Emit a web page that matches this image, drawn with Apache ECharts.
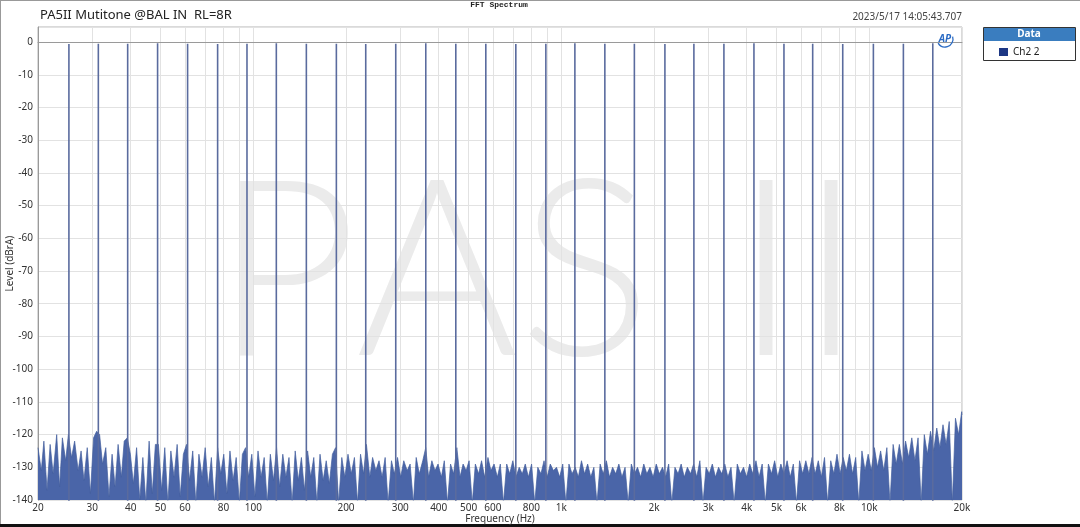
<!DOCTYPE html>
<html><head><meta charset="utf-8">
<script src="https://cdn.jsdelivr.net/npm/echarts@6/dist/echarts.min.js"></script>
<style>html,body{margin:0;padding:0;background:#fff}#c{width:1080px;height:527px}</style>
</head><body><div id="c"></div>
<script>
// Tone frequencies (Hz) and levels (dBrA)
const toneHz = [25.2,31.4,39.1,48.9,61.2,76.6,95.4,118.8,148.7,186.1,231.8,290.1,363.1,454.5,568.8,711.9,891,1107,1385,1727,2170,2695,3373,4222,5284,6550,8200,10311,12904,16076];
const toneDb = [-0.6,-0.5,-0.5,-0.4,-0.5,-0.6,-0.5,-0.4,-0.5,-0.5,-0.6,-0.5,-0.4,-0.5,-0.5,-0.6,-0.5,-0.4,-0.5,-0.5,-0.6,-0.5,-0.5,-0.4,-0.5,-0.5,-0.6,-0.5,-0.5,-0.4];
// Noise floor samples (Hz, dBrA)
const noiseHz = [
20,20.5,20.9,21.4,21.9,22.4,23,23.5,24,24.6,
25.1,25.7,26.3,27,27.6,28.2,28.9,29.6,30.3,31,
31.7,32.4,33.2,34,34.8,35.6,36.4,37.3,38.1,39,
39.9,40.8,41.8,42.8,43.8,44.8,45.9,47,48.1,49.2,
50.4,51.6,52.8,54,55.3,56.6,57.9,59.3,60.7,62.1,
63.6,65.1,66.6,68.2,69.8,71.4,73.1,74.8,76.6,78.4,
80.2,82.1,84,86,88,90.1,92.2,94.4,96.6,98.9,
101.2,103.6,106,108.5,111,113.6,116.3,119,121.8,124.7,
127.6,130.6,133.7,136.8,140,143.3,146.6,150.1,153.6,157.2,
160.9,164.7,168.6,172.5,176.6,180.7,185,189.3,193.8,198.3,
203,208,213,218,223,228,233,239,244,250,
256,262,268,274,281,287,294,301,308,316,
323,331,338,346,355,363,371,380,389,398,
408,417,427,437,447,458,469,480,491,502,
514,526,539,551,564,578,591,605,620,634,
649,665,680,696,713,730,747,764,782,801,
820,839,859,879,900,921,943,965,988,1011,
1035,1059,1084,1110,1136,1163,1190,1218,1247,1276,
1306,1337,1369,1401,1434,1468,1502,1538,1574,1611,
1649,1688,1728,1768,1810,1853,1896,1941,1987,
2034,2082,2131,2181,2232,2285,2339,2394,2450,2508,
2567,2628,2690,2753,2818,2884,2952,3022,3093,3166,
3241,3317,3395,3475,3557,3641,3727,3815,3905,3997,
4091,4187,4286,4387,4490,4596,4704,4815,4929,5045,
5164,5286,5410,5538,5668,5802,5939,6079,6222,6369,
6519,6673,6830,6991,7156,7325,7497,7674,7855,8040,
8230,8424,8622,8826,9034,9247,9465,9688,9917,10150,
10390,10635,10886,11142,11405,11674,11950,12231,12520,12815,
13117,13427,13743,14067,14399,14739,15086,15442,15806,16179,
16560,16951,17351,17760,18179,18607,19046,19495,19955,20000];
const noiseDb = [
-124,-131,-122,-137,-123,-132,-120,-136,-121,-128,
-120,-127,-122,-131,-125,-134,-124,-138,-121,-119,
-120,-129,-124,-139,-126,-136,-123,-133,-122,-121,
-126,-135,-124,-140,-127,-141,-122,-138,-123,-123,
-137,-124,-141,-125,-133,-123,-139,-126,-123,-134,
-125,-141,-126,-133,-124,-136,-127,-141,-124,-132,
-126,-138,-125,-134,-127,-141,-126,-124,-133,-126,
-139,-125,-133,-127,-141,-126,-134,-124,-136,-126,
-133,-127,-141,-125,-134,-127,-137,-125,-133,-127,
-141,-126,-134,-128,-135,-126,-124,-141,-127,-133,
-126,-132,-127,-141,-126,-132,-123,-133,-127,-131,
-128,-133,-127,-141,-128,-132,-127,-133,-128,-131,
-129,-141,-127,-132,-128,-124,-133,-128,-131,-129,
-133,-128,-141,-129,-132,-124,-133,-129,-131,-128,
-141,-129,-132,-128,-133,-127,-131,-129,-133,-129,
-141,-129,-132,-128,-133,-130,-132,-129,-133,-129,
-141,-130,-132,-128,-133,-129,-131,-130,-133,-129,
-141,-129,-132,-130,-133,-128,-132,-129,-133,-130,
-141,-129,-132,-128,-133,-130,-132,-129,-133,-130,
-141,-129,-132,-130,-133,-129,-132,-130,-133,
-129,-132,-130,-133,-129,-141,-130,-132,-129,-133,
-130,-132,-129,-133,-128,-141,-130,-132,-129,-133,
-130,-132,-129,-133,-130,-141,-129,-132,-130,-133,
-129,-132,-128,-133,-129,-141,-129,-132,-128,-133,
-129,-132,-128,-133,-129,-141,-128,-132,-128,-132,
-127,-132,-128,-133,-127,-141,-128,-132,-126,-132,
-127,-131,-126,-132,-127,-141,-125,-131,-126,-131,
-124,-130,-125,-131,-124,-141,-123,-129,-123,-129,
-122,-127,-121,-128,-121,-141,-120,-126,-119,-125,
-118,-124,-117,-123,-116,-141,-115,-120,-113,-114];
// Axis ticks
const xGridHz = [20,30,40,50,60,70,80,90,100,200,300,400,500,600,700,800,900,1000,2000,3000,4000,5000,6000,7000,8000,9000,10000,20000];
const xLabelHz = [20,30,40,50,60,80,100,200,300,400,500,600,800,1000,2000,3000,4000,5000,6000,8000,10000,20000];
const yMin = -140, yMax = 4.6, yStep = 10;

const lg = v => Math.log10(v);
const noiseData = noiseHz.map((f, i) => [lg(f), noiseDb[i]]);
const toneData = [];
toneHz.forEach((f, i) => { toneData.push([lg(f), -150], [lg(f), toneDb[i]], [lg(f), -150]); });

const FONT = 'Noto Sans';
const WM = '300 248px Lato';
const chart = echarts.init(document.getElementById('c'), null, {renderer: 'canvas'});
chart.setOption({
  animation: false,
  backgroundColor: '#ffffff',
  title: [
    {text: 'PA5II Mutitone @BAL IN  RL=8R', left: 40, top: 9, padding: 0, textStyle: {fontFamily: FONT, fontSize: 13, fontWeight: 'normal', color: '#222'}},
    {text: 'FFT Spectrum', left: 499, top: 1, padding: 0, textAlign: 'center', textStyle: {fontFamily: 'Liberation Mono', fontSize: 8, fontWeight: 'bold', color: '#222'}},
    {text: '2023/5/17 14:05:43.707', right: 118, top: 12, padding: 0, textStyle: {fontFamily: FONT, fontSize: 10, fontWeight: 'normal', color: '#444'}}
  ],
  legend: {
    data: [{name: 'Ch2 2', itemStyle: {color: '#1d3784'}}],
    left: 999, top: 47, padding: 0, icon: 'rect', itemWidth: 9, itemHeight: 8, itemGap: 4,
    textStyle: {fontFamily: FONT, fontSize: 10, color: '#222'}, selectedMode: false
  },
  grid: {left: 38, right: 118, top: 27, bottom: 27, show: true, borderColor: '#b5b5b5', borderWidth: 1, containLabel: false, outerBoundsMode: 'none'},
  xAxis: {
    type: 'value', min: lg(20), max: lg(20000),
    name: 'Frequency (Hz)', nameLocation: 'middle', nameGap: 14, nameMoveOverlap: false,
    nameTextStyle: {fontFamily: FONT, fontSize: 10, color: '#333'},
    axisLine: {show: true, lineStyle: {color: '#9a9a9a'}},
    axisTick: {show: false, customValues: xGridHz.map(lg)},
    splitLine: {show: true, lineStyle: {color: '#e2e2e2', width: 1}},
    axisLabel: {customValues: xLabelHz.map(lg), margin: 3, fontFamily: FONT, fontSize: 10, color: '#333',
      formatter: v => { const f = Math.round(Math.pow(10, v)); return f >= 1000 ? (f / 1000) + 'k' : String(f); }}
  },
  yAxis: {
    type: 'value', min: yMin, max: yMax, interval: yStep,
    name: 'Level (dBrA)', nameLocation: 'middle', nameGap: 23, nameRotate: 90, nameMoveOverlap: false,
    nameTextStyle: {fontFamily: FONT, fontSize: 10, color: '#333'},
    axisLine: {show: true, lineStyle: {color: '#9a9a9a'}},
    axisTick: {show: false},
    splitLine: {show: true, lineStyle: {color: '#e2e2e2', width: 1}},
    axisLabel: {showMaxLabel: false, margin: 5, fontFamily: FONT, fontSize: 10, color: '#333'}
  },
  graphic: [
    {type: 'text', z: -10, style: {text: 'P', x: 286, y: 275, align: 'center', verticalAlign: 'middle', font: WM, fill: '#ebebeb'}},
    {type: 'text', z: -10, style: {text: 'A', x: 437, y: 275, align: 'center', verticalAlign: 'middle', font: WM, fill: '#ebebeb'}},
    {type: 'text', z: -10, style: {text: 'S', x: 585, y: 275, align: 'center', verticalAlign: 'middle', font: WM, fill: '#ebebeb'}},
    {type: 'text', z: -10, style: {text: 'I', x: 766, y: 275, align: 'center', verticalAlign: 'middle', font: WM, fill: '#ebebeb'}},
    {type: 'text', z: -10, style: {text: 'I', x: 831, y: 275, align: 'center', verticalAlign: 'middle', font: WM, fill: '#ebebeb'}},
    {type: 'rect', shape: {x: 983.5, y: 27.5, width: 92, height: 33}, style: {fill: '#fff', stroke: '#333', lineWidth: 1}},
    {type: 'rect', shape: {x: 984, y: 28, width: 91, height: 13}, style: {fill: '#3a7dbf'}},
    {type: 'text', style: {text: 'Data', x: 1029, y: 34.5, align: 'center', verticalAlign: 'middle', font: 'bold 10px "Noto Sans"', fill: '#fff'}},
    {type: 'text', z: 10, style: {text: 'AP', x: 945, y: 39, align: 'center', verticalAlign: 'middle', font: 'italic bold 10px "Noto Sans"', fill: '#2b6bc4'}},
    {type: 'arc', z: 10, shape: {cx: 945, cy: 39, r: 8, startAngle: -0.3, endAngle: 2.6}, style: {stroke: '#2b6bc4', lineWidth: 1.3, fill: null}},
    {type: 'line', shape: {x1: 0, y1: 0.5, x2: 1080, y2: 0.5}, style: {stroke: '#999', lineWidth: 1}},
    {type: 'line', shape: {x1: 0.5, y1: 0, x2: 0.5, y2: 527}, style: {stroke: '#999', lineWidth: 1}},
    {type: 'rect', shape: {x: 0, y: 524, width: 1080, height: 3}, style: {fill: '#111'}}
  ],
  series: [
    {name: 'Ch2 2', type: 'line', data: noiseData, showSymbol: false, clip: true, z: 2,
      lineStyle: {color: '#435e9e', width: 0.7}, itemStyle: {color: '#1d3784'},
      areaStyle: {color: '#4a65a8', opacity: 1, origin: 'start'}},
    {name: 'Ch2 2', type: 'line', data: toneData, showSymbol: false, clip: true, z: 3,
      lineStyle: {color: '#5a6b9e', width: 1.6}, itemStyle: {color: '#1d3784'}}
  ]
});
</script></body></html>
